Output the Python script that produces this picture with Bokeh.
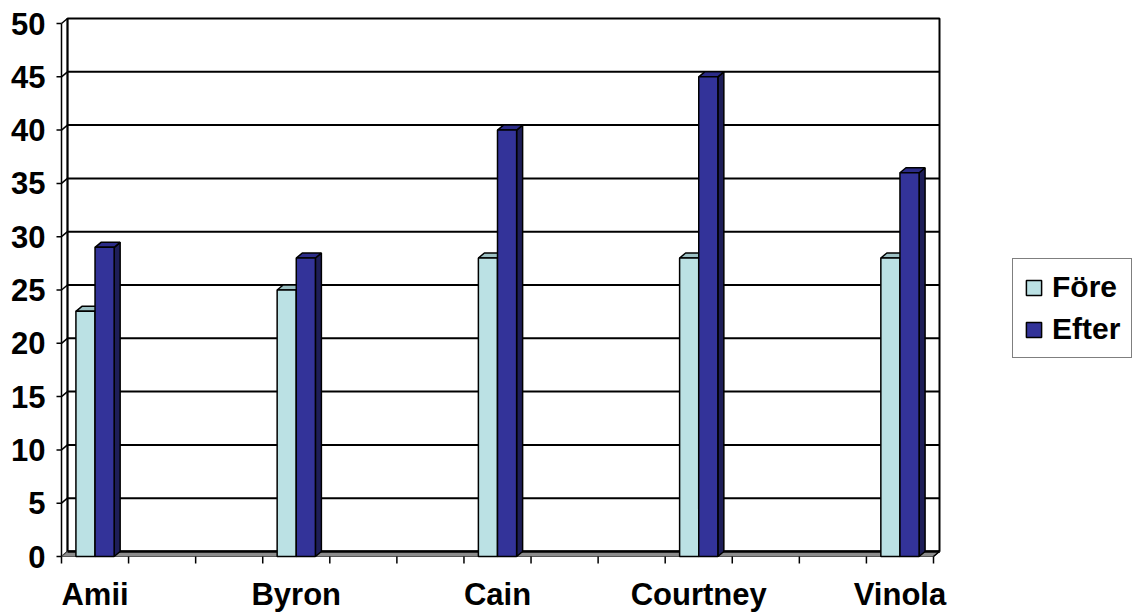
from bokeh.plotting import figure
from bokeh.models import Range1d, FixedTicker, Legend, LegendItem, ColumnDataSource
from bokeh.embed import file_html
from bokeh.resources import INLINE

# --- data -------------------------------------------------------------
categories = ["Amii", "Byron", "Cain", "Courtney", "Vinola"]
fore = [23, 25, 28, 28, 28]
efter = [29, 28, 40, 45, 36]
y_ticks = [0, 5, 10, 15, 20, 25, 30, 35, 40, 45, 50]

# --- layout -----------------------------------------------------------
W, H = 1137, 614
N_SLOTS = 13          # category slots on the x axis (one name every third slot)
SLOT_STEP = 3
Y_MAX = 50
AX_L, AX_R = 61, 933  # front x-axis extent in px
AX_B, AX_T = 556, 23  # front y-axis extent in px
FL, FT, FB = 55, 12, 566  # frame edges in px (frame runs to the right edge)

sx = (AX_R - AX_L) / N_SLOTS
sy = (AX_B - AX_T) / Y_MAX
DX = 6 / sx   # depth offset of the back wall
DY = 5 / sy

x_range = Range1d(-(AX_L - FL) / sx, N_SLOTS + (W - AX_R) / sx)
y_range = Range1d(-(FB - AX_B) / sy, Y_MAX + (AX_T - FT) / sy)

FONT = "Liberation Sans"
FORE_FRONT, FORE_TOP = "#BBE1E4", "#9CC0C3"
EFTER_FRONT, EFTER_TOP, EFTER_SIDE = "#333399", "#2C2C88", "#1E1E58"

p = figure(width=W, height=H, x_range=x_range, y_range=y_range,
           output_backend="svg", toolbar_location=None,
           min_border_left=FL, min_border_right=0,
           min_border_top=FT, min_border_bottom=H - FB)
p.outline_line_color = None
p.xgrid.visible = False
p.ygrid.visible = False
p.background_fill_color = "white"
p.border_fill_color = "white"

# --- axes: labels only, lines and ticks are drawn as segments ----------
centers = [SLOT_STEP * i + 0.5 for i in range(len(categories))]
p.xaxis.ticker = FixedTicker(ticks=centers)
p.xaxis.major_label_overrides = {c: name for c, name in zip(centers, categories)}
p.yaxis.ticker = FixedTicker(ticks=y_ticks)
for ax in (p.xaxis[0], p.yaxis[0]):
    ax.axis_line_color = None
    ax.major_tick_line_color = None
    ax.minor_tick_line_color = None
    ax.major_tick_out = 0
    ax.major_tick_in = 0
    ax.major_label_text_font = FONT
    ax.major_label_text_font_style = "bold"
    ax.major_label_text_color = "black"
p.xaxis.major_label_text_font_size = "31px"
p.yaxis.major_label_text_font_size = "31px"
p.xaxis.major_label_standoff = 10
p.yaxis.major_label_standoff = 10

# --- walls and floor ---------------------------------------------------
p.quad(left=[DX], right=[N_SLOTS + DX], bottom=[DY], top=[Y_MAX + DY],
       fill_color="white", line_color="black", line_width=2)
grid_vals = [v for v in y_ticks if 0 < v < Y_MAX]
p.segment(x0=[DX] * len(grid_vals), x1=[N_SLOTS + DX] * len(grid_vals),
          y0=[v + DY for v in grid_vals], y1=[v + DY for v in grid_vals],
          line_color="black", line_width=2)
# side wall on the left
p.segment(x0=[0] * len(y_ticks), x1=[DX] * len(y_ticks),
          y0=y_ticks, y1=[v + DY for v in y_ticks],
          line_color="black", line_width=1.5)
p.segment(x0=[0, DX], x1=[0, DX], y0=[0, DY], y1=[Y_MAX, Y_MAX + DY],
          line_color="black", line_width=1.5)
# floor
p.patch(x=[0, N_SLOTS, N_SLOTS + DX, DX], y=[0, 0, DY, DY],
        fill_color="#8C8C8C", line_color="#555555", line_width=1)
p.segment(x0=[DX], x1=[N_SLOTS + DX], y0=[DY], y1=[DY],
          line_color="black", line_width=2.5)
p.segment(x0=[N_SLOTS], x1=[N_SLOTS + DX], y0=[0], y1=[DY],
          line_color="black", line_width=1.5)

# tick marks
tick_len_y = 5 / sx
p.segment(x0=[-tick_len_y] * len(y_ticks), x1=[0] * len(y_ticks),
          y0=y_ticks, y1=y_ticks, line_color="black", line_width=1.5)
slots = list(range(N_SLOTS + 1))
p.segment(x0=slots, x1=slots, y0=[0] * len(slots), y1=[-7 / sy] * len(slots),
          line_color="black", line_width=1.5)

# --- 3-D columns -------------------------------------------------------
BAR_W = 0.285


def draw_series(values, left_off, front, top, side):
    lefts = [SLOT_STEP * i + left_off for i in range(len(values))]
    rights = [l + BAR_W for l in lefts]
    src = ColumnDataSource(dict(left=lefts, right=rights,
                                bottom=[0] * len(values), top=values))
    tops_x = [[l, l + DX, r + DX, r] for l, r in zip(lefts, rights)]
    tops_y = [[v, v + DY, v + DY, v] for v in values]
    sides_x = [[r, r + DX, r + DX, r] for r in rights]
    sides_y = [[0, DY, v + DY, v] for v in values]
    p.patches(xs=sides_x, ys=sides_y, fill_color=side,
              line_color="black", line_width=1.5)
    p.patches(xs=tops_x, ys=tops_y, fill_color=top,
              line_color="black", line_width=1.5)
    return p.quad(left="left", right="right", bottom="bottom", top="top",
                  source=src, fill_color=front, line_color="black",
                  line_width=1.5)


r_fore = draw_series(fore, 0.5 - BAR_W, FORE_FRONT, FORE_TOP, FORE_TOP)
r_efter = draw_series(efter, 0.5, EFTER_FRONT, EFTER_TOP, EFTER_SIDE)

legend = Legend(items=[LegendItem(label="Före", renderers=[r_fore]),
                       LegendItem(label="Efter", renderers=[r_efter])],
                location=(1012 - FL, FB - 358))
legend.label_text_font = FONT
legend.label_text_font_style = "bold"
legend.label_text_font_size = "30px"
legend.label_text_color = "black"
legend.glyph_width = 19
legend.glyph_height = 19
legend.label_standoff = 9
legend.padding = 11
legend.spacing = 8
legend.margin = 0
legend.border_line_color = "black"
legend.border_line_width = 1.5
legend.background_fill_color = "white"
legend.background_fill_alpha = 1
p.add_layout(legend)

open("out.html", "w").write(file_html(p, INLINE))
